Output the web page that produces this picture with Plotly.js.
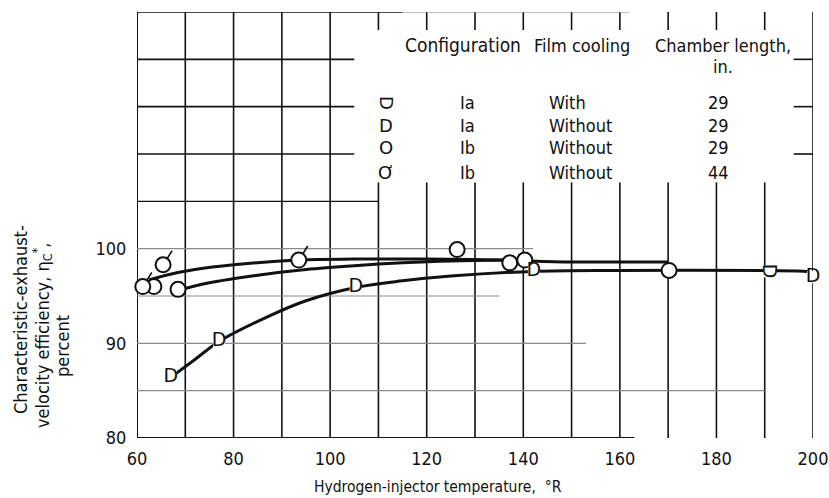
<!DOCTYPE html>
<html><head><meta charset="utf-8">
<script src="https://cdn.plot.ly/plotly-3.0.1.min.js"></script>
<style>html,body{margin:0;padding:0;background:#fff}#chart{width:829px;height:498px}</style>
</head><body><div id="chart"></div>
<script>
// ---- data ----
// Configuration Ia, with film cooling, 29 in.
const iaFilmT = [191.0];
const iaFilmE = [97.6];
// Configuration Ia, without film cooling, 29 in.
const iaT = [67.0, 77.0, 105.3, 142.2, 200.0];
const iaE = [86.4, 90.2, 95.9, 97.6, 97.0];
// Configuration Ib, without film cooling, 29 in.
const ib29T = [63.5, 68.5, 126.3, 137.2, 140.3, 170.2];
const ib29E = [96.0, 95.7, 99.9, 98.5, 98.8, 97.7];
// Configuration Ib, without film cooling, 44 in.
const ib44T = [61.2, 65.4, 93.5];
const ib44E = [96.0, 98.3, 98.8];
// faired curves
const fitIb44T = [62.5, 66, 72, 80, 93.5, 105, 120, 135, 150, 170];
const fitIb44E = [96.7, 97.2, 97.8, 98.3, 98.8, 98.9, 98.9, 98.8, 98.6, 98.6];
const fitIb29T = [68.5, 75, 85, 95, 105, 115, 125, 137];
const fitIb29E = [95.6, 96.4, 97.2, 97.8, 98.2, 98.5, 98.7, 98.8];
const fitIaT = [67, 72, 77, 87, 95, 105.3, 115, 125, 142, 160, 191, 199];
const fitIaE = [86.4, 88.3, 90.2, 92.8, 94.5, 95.9, 96.6, 97.1, 97.6, 97.7, 97.7, 97.6];
// tick labels
const xTicks = [60, 80, 100, 120, 140, 160, 180, 200];
const yTicks = [80, 90, 100];
// legend table
const legConfig = ['Ia', 'Ia', 'Ib', 'Ib'];
const legFilm = ['With', 'Without', 'Without', 'Without'];
const legLength = ['29', '29', '29', '44'];
const legSymbols = ['D', 'D', 'O', '\u01A0'];

// ---- layout helpers ----
const PL = 137, PR = 813, PT = 12, PB = 438;
const xp = px => (px - PL) / (PR - PL);
const yp = py => (PB - py) / (PB - PT);
const TXT = 'DejaVu Sans Condensed, sans-serif';
const BLACK = '#111', GRAY = '#8a8a8a';

const shapes = [];
function ln(x0, y0, x1, y1, c, w) {
  shapes.push({type: 'line', xref: 'x', yref: 'y', x0, y0, x1, y1, layer: 'below',
    line: {color: c, width: w}});
}
// left axis
ln(60, 80, 60, 125, BLACK, 2);
// vertical grid
for (let v = 70; v <= 200; v += 10) {
  if (v >= 110 && v <= 190) {
    ln(v, 80, v, 107.0, BLACK, 1.6);
    ln(v, 123.1, v, 125, BLACK, 1.6);
  } else {
    ln(v, 80, v, 125, BLACK, 1.6);
  }
}
// horizontal grid (partial, as in the original sheet)
ln(60, 125, 115, 125, BLACK, 1.6); ln(115, 125, 162, 125, GRAY, 1);
[120, 115, 110].forEach(v => { ln(60, v, 105, v, BLACK, 1.6); ln(196, v, 200, v, BLACK, 1.6); });
ln(60, 105, 110, 105, BLACK, 1.4);
ln(60, 100, 142, 100, GRAY, 1.2);
ln(60, 95, 135, 95, GRAY, 1.2);
ln(60, 90, 153, 90, GRAY, 1.2);
ln(60, 85, 190, 85, GRAY, 1.2);
ln(60, 80, 163, 80, BLACK, 1.8);
// flags on the 44-in. symbols (pixel-sized, anchored on each data point)
ib44T.forEach((t, i) => shapes.push({type: 'line', xref: 'x', yref: 'y', layer: 'above',
  xsizemode: 'pixel', ysizemode: 'pixel', xanchor: t, yanchor: ib44E[i],
  x0: 4, y0: 6, x1: 9, y1: 14, line: {color: BLACK, width: 1.6}}));

const traces = [
  {x: fitIb44T, y: fitIb44E, mode: 'lines', line: {color: BLACK, width: 3, shape: 'spline'}, hoverinfo: 'skip'},
  {x: fitIb29T, y: fitIb29E, mode: 'lines', line: {color: BLACK, width: 3, shape: 'spline'}, hoverinfo: 'skip'},
  {x: fitIaT, y: fitIaE, mode: 'lines', line: {color: BLACK, width: 3, shape: 'spline'}, hoverinfo: 'skip'},
  {x: ib29T, y: ib29E, mode: 'markers', cliponaxis: false,
   marker: {symbol: 'circle', size: 15, color: '#fff', line: {color: BLACK, width: 2}}},
  {x: ib44T, y: ib44E, mode: 'markers', cliponaxis: false,
   marker: {symbol: 'circle', size: 15, color: '#fff', line: {color: BLACK, width: 2}}},
  {x: iaT, y: iaE, mode: 'markers+text', cliponaxis: false, text: iaT.map(() => 'D'), textposition: 'middle center',
   textfont: {family: 'DejaVu Sans', size: 19, color: BLACK},
   marker: {symbol: 'square', size: 12, color: '#fff'}},
  {x: iaFilmT, y: iaFilmE, mode: 'markers', marker: {symbol: 'square', size: 12, color: '#fff'}}
];

const ann = [];
function txt(px, py, text, opts) {
  ann.push(Object.assign({x: xp(px), y: yp(py), xref: 'paper', yref: 'paper', xanchor: 'center', yanchor: 'middle',
    text, showarrow: false, font: {family: TXT, size: 18, color: BLACK}}, opts || {}));
}
// film-cooling points: D glyph turned so the rounded side faces down
iaFilmT.forEach((t, i) => ann.push({x: t, y: iaFilmE[i], xref: 'x', yref: 'y', xanchor: 'center', yanchor: 'middle',
  text: 'D', textangle: 90, showarrow: false, font: {family: 'DejaVu Sans', size: 19, color: BLACK}}));
// legend table
txt(403, 45, 'Configuration', {xanchor: 'left', font: {family: TXT, size: 19, color: BLACK}});
txt(532, 45, 'Film cooling', {xanchor: 'left'});
txt(653, 45, 'Chamber length,', {xanchor: 'left'});
txt(723, 66, 'in.');
const rowsY = [103, 125, 148, 172];
legConfig.forEach((c, i) => {
  txt(386, rowsY[i], legSymbols[i], {textangle: i === 0 ? 90 : 0, font: {family: 'DejaVu Sans', size: 18, color: BLACK}});
  txt(467, rowsY[i], c);
  txt(547, rowsY[i], legFilm[i], {xanchor: 'left'});
  txt(718, rowsY[i], legLength[i]);
});
// axis titles
txt(438, 487, 'Hydrogen-injector temperature,  \u00B0R', {font: {family: TXT, size: 15.5, color: BLACK}});
txt(20, 320, 'Characteristic-exhaust-', {textangle: -90});
txt(42, 336, 'velocity efficiency, \u03B7<sub>C</sub><sup>*</sup>,', {textangle: -90});
txt(62, 346, 'percent', {textangle: -90});

const layout = {
  width: 829, height: 498,
  margin: {l: PL, r: 829 - PR, t: PT, b: 498 - PB},
  paper_bgcolor: '#fff', plot_bgcolor: '#fff',
  showlegend: false,
  xaxis: {range: [60, 200], showgrid: false, zeroline: false, showline: false,
    tickvals: xTicks, ticktext: xTicks.map(String), ticks: 'outside', ticklen: 4, tickcolor: 'rgba(0,0,0,0)',
    tickfont: {family: TXT, size: 18, color: BLACK}, fixedrange: true},
  yaxis: {range: [80, 125], showgrid: false, zeroline: false, showline: false,
    tickvals: yTicks, ticktext: yTicks.map(String), ticks: 'outside', ticklen: 6, tickcolor: 'rgba(0,0,0,0)',
    tickfont: {family: TXT, size: 18, color: BLACK}, fixedrange: true},
  shapes, annotations: ann
};
Plotly.newPlot('chart', traces, layout, {displayModeBar: false, staticPlot: true});
</script></body></html>
